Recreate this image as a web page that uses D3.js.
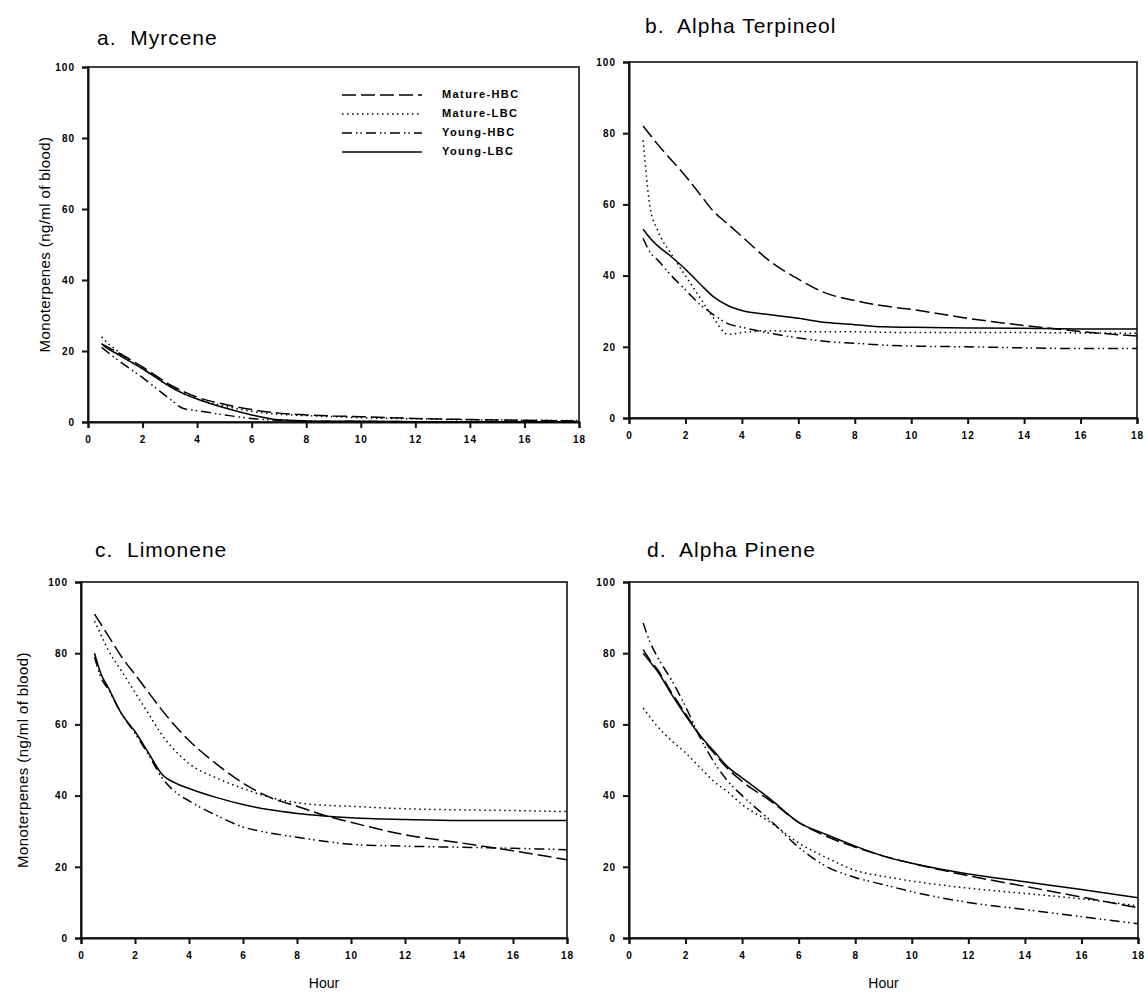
<!DOCTYPE html>
<html>
<head>
<meta charset="utf-8">
<script src="https://cdn.jsdelivr.net/npm/d3@7"></script>
<style>
  body { margin: 0; background: #fff; }
  svg text { fill: #000; }
</style>
</head>
<body>
<svg id="chart" width="1148" height="1004"></svg>
<script>
// sampling times (hours) shared by all curves
const hours = [0.5, 0.75, 1, 1.5, 2, 2.5, 3, 3.5, 4, 5, 6, 7, 8, 9, 10, 12, 14, 16, 18];
const seriesNames = ["Mature-HBC", "Mature-LBC", "Young-HBC", "Young-LBC"];
const xTicks = [0, 2, 4, 6, 8, 10, 12, 14, 16, 18];
const yTicks = [0, 20, 40, 60, 80, 100];
const panelTitles = ["a.  Myrcene", "b.  Alpha Terpineol", "c.  Limonene", "d.  Alpha Pinene"];

// a. Myrcene
const myrceneMatureHBC = [22, 21, 20, 17.8, 15.5, 13, 10.5, 8.6, 7, 5, 3.5, 2.5, 2, 1.7, 1.5, 1, 0.7, 0.5, 0.3];
const myrceneMatureLBC = [24, 22, 20.5, 17.5, 15, 12.5, 10, 8.2, 6.5, 4.5, 3, 2.2, 1.8, 1.5, 1.2, 0.9, 0.6, 0.5, 0.4];
const myrceneYoungHBC  = [21, 19.5, 18, 15.2, 12.5, 9.5, 6.5, 3.8, 3.2, 2, 1, 0.5, 0.3, 0.2, 0.2, 0.1, 0.1, 0.1, 0.1];
const myrceneYoungLBC  = [22, 20.5, 19.5, 17.2, 15, 12.5, 10, 8, 6.5, 4, 2, 0.6, 0.3, 0.2, 0.2, 0.1, 0.1, 0.1, 0.1];

// b. Alpha Terpineol
const terpineolMatureHBC = [82, 79.5, 77, 72.5, 68, 63, 58, 54.5, 51, 44, 39, 35, 33, 31.5, 30.5, 28, 26, 24.3, 23];
const terpineolMatureLBC = [78, 59, 53, 46, 40, 34, 28, 23.5, 24, 24.5, 24.3, 24.2, 24.2, 24.1, 24, 24, 24, 23.9, 23.8];
const terpineolYoungHBC  = [50.5, 46.5, 44.5, 40, 36, 32, 29, 26.5, 25.5, 23.8, 22.5, 21.5, 21, 20.5, 20.2, 20, 19.7, 19.5, 19.5];
const terpineolYoungLBC  = [53, 50.5, 48.5, 45.3, 41.8, 37.8, 34, 31.6, 30.2, 29, 28, 26.8, 26.2, 25.6, 25.5, 25.3, 25.2, 25, 25];

// c. Limonene
const limoneneMatureHBC = [91, 88, 85, 79, 74, 69, 64, 59.5, 55.5, 49, 43.5, 39.5, 37, 34.5, 32.5, 29, 26.8, 24.5, 22];
const limoneneMatureLBC = [89, 85, 81, 75, 69, 63, 57, 52.5, 49, 45, 42, 39.5, 38, 37.3, 37, 36.3, 36, 35.8, 35.5];
const limoneneYoungHBC  = [79, 73, 70, 63, 57.5, 51.5, 45, 41, 38.5, 34.5, 31.2, 29.5, 28.3, 27.2, 26.3, 25.8, 25.5, 25.2, 24.8];
const limoneneYoungLBC  = [80, 74, 70.5, 63, 58, 52, 46, 43.5, 42, 39.5, 37.5, 36, 35, 34.3, 33.8, 33.3, 33, 33, 33];

// d. Alpha Pinene
const pineneMatureHBC = [81, 78, 75.5, 69, 63, 57, 52, 47.5, 44, 38.5, 32.5, 28.5, 25.5, 23, 21, 17.5, 14.5, 11.5, 8.5];
const pineneMatureLBC = [64.6, 62, 59.5, 55.5, 52, 48, 44, 41, 37.5, 32.5, 26.7, 22.5, 19, 17.3, 16, 14, 12.5, 11, 9];
const pineneYoungHBC  = [88.5, 83, 79, 72.5, 65, 56.5, 49.5, 44, 40, 33, 25.5, 20, 17, 15, 13, 10, 8, 6, 4];
const pineneYoungLBC  = [80, 77.5, 75, 68.5, 62.5, 57, 52.5, 48, 45, 39, 32.5, 29, 25.8, 23, 21, 18, 15.8, 13.6, 11.3];

const dashes = ["14,5", "1.5,3.5", "10,4,1.5,3,1.5,4", null];
const FONT = "Liberation Sans, Arial, sans-serif";

var panels = [
    { title: panelTitles[0], left: 88, right: 579, top: 67, bottom: 422, titleX: 97, titleY: 45, ylabelX: 46,
      series: [myrceneMatureHBC, myrceneMatureLBC, myrceneYoungHBC, myrceneYoungLBC], legend: true },
    { title: panelTitles[1], left: 629, right: 1137, top: 62, bottom: 418, titleX: 645, titleY: 33, ylabelX: null,
      series: [terpineolMatureHBC, terpineolMatureLBC, terpineolYoungHBC, terpineolYoungLBC] },
    { title: panelTitles[2], left: 81, right: 567, top: 582, bottom: 938, titleX: 95, titleY: 557, ylabelX: 24,
      series: [limoneneMatureHBC, limoneneMatureLBC, limoneneYoungHBC, limoneneYoungLBC], xlabel: true },
    { title: panelTitles[3], left: 629, right: 1138, top: 582, bottom: 938, titleX: 647, titleY: 557, ylabelX: null,
      series: [pineneMatureHBC, pineneMatureLBC, pineneYoungHBC, pineneYoungLBC], xlabel: true }
];

var svg = d3.select("#chart");

panels.forEach(function(p) {
    var x = d3.scaleLinear().domain([0, 18]).range([p.left, p.right]);
    var y = d3.scaleLinear().domain([0, 100]).range([p.bottom, p.top]);
    var g = svg.append("g");

    g.append("text")
        .attr("x", p.titleX)
        .attr("y", p.titleY)
        .style("font-family", FONT)
        .style("font-size", "21px")
        .style("letter-spacing", "1px")
        .style("white-space", "pre")
        .text(p.title);

    // frame
    g.append("rect")
        .attr("x", p.left)
        .attr("y", p.top)
        .attr("width", p.right - p.left)
        .attr("height", p.bottom - p.top)
        .attr("fill", "none")
        .style("stroke", "#111")
        .style("stroke-width", 1.6);

    var xAxis = g.append("g")
        .attr("transform", "translate(0," + p.bottom + ")")
        .call(d3.axisBottom(x).tickValues(xTicks).tickSize(6).tickPadding(8));
    var yAxis = g.append("g")
        .attr("transform", "translate(" + p.left + ",0)")
        .call(d3.axisLeft(y).tickValues(yTicks).tickSize(6).tickPadding(7));

    [xAxis, yAxis].forEach(function(ax) {
        ax.select(".domain").style("stroke", "#111").style("stroke-width", 2);
        ax.selectAll(".tick line").style("stroke", "#111").style("stroke-width", 2);
        ax.selectAll(".tick text")
            .style("font-family", FONT)
            .style("font-size", "10px")
            .style("font-weight", "bold")
            .style("letter-spacing", "1px");
    });

    var line = d3.line()
        .x((d, i) => x(hours[i]))
        .y(d => y(d))
        .curve(d3.curveMonotoneX);

    g.selectAll("path.series")
        .data(p.series)
        .join("path")
        .attr("class", "series")
        .attr("d", line)
        .attr("fill", "none")
        .style("stroke", "#000")
        .style("stroke-width", 1.5)
        .style("stroke-dasharray", (d, i) => dashes[i]);

    if (p.ylabelX != null) {
        g.append("text")
            .attr("transform", "translate(" + p.ylabelX + "," + (p.top + p.bottom) / 2 + ") rotate(-90)")
            .attr("text-anchor", "middle")
            .attr("dominant-baseline", "middle")
            .style("font-family", FONT)
            .style("font-size", "15px")
            .style("letter-spacing", "0.4px")
            .text("Monoterpenes (ng/ml of blood)");
    }

    if (p.xlabel) {
        g.append("text")
            .attr("x", (p.left + p.right) / 2)
            .attr("y", p.bottom + 50)
            .attr("text-anchor", "middle")
            .style("font-family", FONT)
            .style("font-size", "14px")
            .text("Hour");
    }

    if (p.legend) {
        var lg = g.append("g").attr("transform", "translate(342,95)");
        var items = lg.selectAll("g")
            .data(seriesNames)
            .join("g")
            .attr("transform", (d, i) => "translate(0," + i * 19 + ")");
        items.append("line")
            .attr("x1", 0).attr("x2", 80)
            .attr("y1", 0).attr("y2", 0)
            .style("stroke", "#000")
            .style("stroke-width", 1.5)
            .style("stroke-dasharray", (d, i) => dashes[i]);
        items.append("text")
            .attr("x", 100)
            .attr("y", 0)
            .attr("dominant-baseline", "middle")
            .style("font-family", FONT)
            .style("font-size", "11px")
            .style("font-weight", "bold")
            .style("letter-spacing", "1.4px")
            .text(d => d);
    }
});
</script>
</body>
</html>
